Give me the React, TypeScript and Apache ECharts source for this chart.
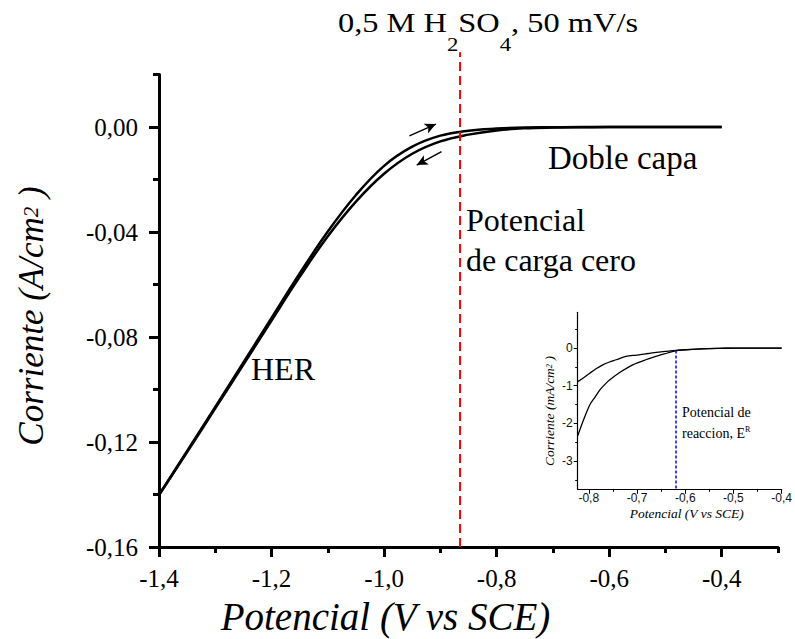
import React, { useEffect, useRef } from "react";
import * as echarts from "echarts";

// ---- Main voltammogram (A/cm2 vs V vs SCE) ----
const potential = [-1.4, -1.35, -1.3, -1.25, -1.2, -1.15, -1.1, -1.05, -1.0, -0.95, -0.9, -0.85, -0.8, -0.75, -0.7, -0.65, -0.6, -0.5, -0.4];
const currentForward = [-0.1402, -0.1234, -0.1066, -0.0897, -0.0727, -0.0558, -0.0398, -0.0259, -0.0148, -0.0075, -0.0033, -0.0014, -0.0006, -0.0002, -0.0001, 0, 0, 0, 0];
const currentReverse = [-0.1402, -0.1238, -0.1072, -0.0905, -0.0737, -0.0571, -0.0416, -0.0284, -0.0178, -0.0102, -0.0055, -0.0029, -0.0013, -0.0005, -0.0002, -0.0001, 0, 0, 0];

const mainXTicks = [-1.4, -1.2, -1.0, -0.8, -0.6, -0.4];
const mainYTicks = [-0.16, -0.12, -0.08, -0.04, 0];

// ---- Inset (mA/cm2) ----
const insetPotentialA = [-0.823, -0.81, -0.798, -0.785, -0.771, -0.757, -0.743, -0.723, -0.7, -0.682, -0.66, -0.641, -0.62, -0.6, -0.566, -0.53, -0.5, -0.45, -0.4];
const insetCurrentA = [-0.89, -0.78, -0.667, -0.55, -0.445, -0.37, -0.31, -0.22, -0.185, -0.152, -0.115, -0.09, -0.063, -0.045, -0.02, -0.008, -0.003, 0, 0];
const insetPotentialB = [-0.823, -0.811, -0.798, -0.787, -0.777, -0.767, -0.757, -0.736, -0.709, -0.682, -0.654, -0.62, -0.6, -0.566, -0.53, -0.5, -0.45, -0.4];
const insetCurrentB = [-2.33, -1.91, -1.51, -1.3, -1.11, -0.97, -0.85, -0.65, -0.445, -0.31, -0.196, -0.072, -0.045, -0.02, -0.008, -0.003, 0, 0];

const insetXTicks = [-0.8, -0.7, -0.6, -0.5, -0.4];
const insetXMinorTicks = [-0.75, -0.65, -0.55, -0.45];
const insetYTicks = [-3, -2, -1, 0];
const insetYMinorTicks = [-3.5, -2.5, -1.5, -0.5, 0.5];

// ---- Annotations (data coordinates) ----
const pzcPotential = -0.865;
const pzcSpan = [-0.16, 0.0285];
const reactionPotential = -0.62;
const reactionSpan = [-3.75, -0.065];
const arrowForward = [[-0.955, -0.0034], [-0.908, 0.0011]];
const arrowReverse = [[-0.898, -0.0094], [-0.942, -0.0145]];

const serif = "Liberation Serif";
const sans = "Liberation Sans";

const fmt = (v: number, d: number) => Number(v).toFixed(d).replace(".", ",");
const zip = (xs: number[], ys: number[]) => xs.map((x, i) => [x, ys[i]]);

function buildGraphics(): any[] {
  return [
    {
      type: "text", id: "title", x: 338, y: 22.8, scaleX: 1.2, silent: true,
      style: {
        text: "{m|0,5 M H}{s|2}{m|SO}{s|4}{m|, 50 mV/s}",
        align: "left", verticalAlign: "middle",
        rich: {
          m: { fontFamily: serif, fontSize: 27, lineHeight: 62, fill: "#000" },
          s: { fontFamily: serif, fontSize: 19, lineHeight: 19, verticalAlign: "bottom", fill: "#000" },
        },
      },
    },
    { type: "text", id: "doble", x: 548, y: 158, silent: true, style: { text: "Doble capa", fontFamily: serif, fontSize: 33, fill: "#000", align: "left", verticalAlign: "middle" } },
    { type: "text", id: "pzc1", x: 466, y: 219.8, silent: true, style: { text: "Potencial", fontFamily: serif, fontSize: 32, fill: "#000", align: "left", verticalAlign: "middle" } },
    { type: "text", id: "pzc2", x: 466, y: 259.8, silent: true, style: { text: "de carga cero", fontFamily: serif, fontSize: 32, fill: "#000", align: "left", verticalAlign: "middle" } },
    { type: "text", id: "her", x: 251, y: 369, silent: true, style: { text: "HER", fontFamily: serif, fontSize: 32, fill: "#000", align: "left", verticalAlign: "middle" } },
    { type: "text", id: "xname", x: 385.5, y: 616.7, silent: true, style: { text: "Potencial (V vs SCE)", fontFamily: serif, fontStyle: "italic", fontSize: 39, fill: "#000", align: "center", verticalAlign: "middle" } },
    {
      type: "text", id: "yname", x: 31, y: 316, rotation: Math.PI / 2, silent: true,
      style: {
        text: "{i|Corriente (A/cm}{s|2}{i| )}", align: "center", verticalAlign: "middle",
        rich: {
          i: { fontFamily: serif, fontStyle: "italic", fontSize: 35, lineHeight: 40, fill: "#000" },
          s: { fontFamily: serif, fontStyle: "italic", fontSize: 21, lineHeight: 21, verticalAlign: "middle", fill: "#000" },
        },
      },
    },
    // inset texts
    { type: "text", id: "ixname", x: 686.7, y: 513.4, silent: true, style: { text: "Potencial (V vs SCE)", fontFamily: serif, fontStyle: "italic", fontSize: 13.5, fill: "#000", align: "center", verticalAlign: "middle" } },
    {
      type: "text", id: "iyname", x: 549, y: 411, rotation: Math.PI / 2, silent: true,
      style: {
        text: "{i|Corriente (mA/cm}{s|2}{i| )}", align: "center", verticalAlign: "middle",
        rich: {
          i: { fontFamily: serif, fontStyle: "italic", fontSize: 13.5, lineHeight: 16, fill: "#000" },
          s: { fontFamily: serif, fontStyle: "italic", fontSize: 8.5, lineHeight: 8.5, verticalAlign: "middle", fill: "#000" },
        },
      },
    },
    { type: "text", id: "ire1", x: 682, y: 412.7, silent: true, style: { text: "Potencial de", fontFamily: serif, fontSize: 14, fill: "#000", align: "left", verticalAlign: "middle" } },
    {
      type: "text", id: "ire2", x: 682, y: 433.7, silent: true,
      style: {
        text: "{a|reaccion, E}{s|R}", align: "left", verticalAlign: "middle",
        rich: {
          a: { fontFamily: serif, fontSize: 14, lineHeight: 16, fill: "#000" },
          s: { fontFamily: serif, fontSize: 8, lineHeight: 8, verticalAlign: "top", fill: "#000" },
        },
      },
    },
  ];
}

function buildOption(): any {
  const mainAxisLine = { onZero: false, lineStyle: { color: "#000", width: 3 } };
  const insetAxisLine = { onZero: false, lineStyle: { color: "#000", width: 1.2 } };
  return {
    animation: false,
    backgroundColor: "#fff",
    textStyle: { fontFamily: serif },
    grid: [
      { left: 159, top: 74.5, width: 619, height: 472.5 },
      { left: 577.7, top: 312.3, width: 206.6, height: 177 },
    ],
    xAxis: [
      {
        gridIndex: 0, type: "value", position: "bottom", min: -1.4, max: -0.3, interval: 0.2,
        axisLine: mainAxisLine,
        axisTick: { customValues: mainXTicks, length: 10, lineStyle: { color: "#000", width: 3 } },
        axisLabel: { customValues: mainXTicks, margin: 19, fontFamily: serif, fontSize: 25, color: "#000", formatter: (v: number) => fmt(v, 1) },
        splitLine: { show: false },
      },
      {
        gridIndex: 0, type: "value", position: "bottom", min: -1.4, max: -0.3, interval: 0.1,
        axisLine: { show: false, onZero: false },
        axisTick: { length: 6, lineStyle: { color: "#000", width: 3 } },
        axisLabel: { show: false }, splitLine: { show: false },
      },
      {
        gridIndex: 1, type: "value", position: "bottom", min: -0.823, max: -0.4,
        axisLine: insetAxisLine,
        axisTick: { customValues: insetXTicks, length: 4.5, lineStyle: { color: "#000", width: 1 } },
        axisLabel: { customValues: insetXTicks, margin: 3, fontFamily: sans, fontSize: 12, color: "#111", formatter: (v: number) => fmt(v, 1) },
        splitLine: { show: false },
      },
      {
        gridIndex: 1, type: "value", position: "bottom", min: -0.823, max: -0.4,
        axisLine: { show: false, onZero: false },
        axisTick: { customValues: insetXMinorTicks, length: 2.5, lineStyle: { color: "#000", width: 1 } },
        axisLabel: { show: false }, splitLine: { show: false },
      },
    ],
    yAxis: [
      {
        gridIndex: 0, type: "value", position: "left", min: -0.16, max: 0.02, interval: 0.04,
        axisLine: mainAxisLine,
        axisTick: { customValues: mainYTicks, length: 10, lineStyle: { color: "#000", width: 3 } },
        axisLabel: { customValues: mainYTicks, margin: 21, fontFamily: serif, fontSize: 25, color: "#000", formatter: (v: number) => fmt(v, 2) },
        splitLine: { show: false },
      },
      {
        gridIndex: 0, type: "value", position: "left", min: -0.16, max: 0.02, interval: 0.02,
        axisLine: { show: false, onZero: false },
        axisTick: { length: 6, lineStyle: { color: "#000", width: 3 } },
        axisLabel: { show: false }, splitLine: { show: false },
      },
      {
        gridIndex: 1, type: "value", position: "left", min: -3.75, max: 0.95,
        axisLine: insetAxisLine,
        axisTick: { customValues: insetYTicks, length: 4, lineStyle: { color: "#000", width: 1 } },
        axisLabel: { customValues: insetYTicks, margin: 5, fontFamily: sans, fontSize: 12, color: "#111", formatter: (v: number) => String(Math.round(v)) },
        splitLine: { show: false },
      },
      {
        gridIndex: 1, type: "value", position: "left", min: -3.75, max: 0.95,
        axisLine: { show: false, onZero: false },
        axisTick: { customValues: insetYMinorTicks, length: 2.5, lineStyle: { color: "#000", width: 1 } },
        axisLabel: { show: false }, splitLine: { show: false },
      },
    ],
    series: [
      {
        type: "line", name: "forward", xAxisIndex: 0, yAxisIndex: 0,
        data: zip(potential, currentForward), symbol: "none", smooth: 0.4,
        lineStyle: { color: "#000", width: 2.5 }, silent: true, emphasis: { disabled: true },
        markLine: {
          silent: true, symbol: ["none", "arrow"], symbolSize: [8, 11],
          lineStyle: { color: "#000", width: 1.5, type: "solid" },
          label: { show: false }, emphasis: { disabled: true },
          data: [
            [{ coord: arrowForward[0] }, { coord: arrowForward[1] }],
            [{ coord: arrowReverse[0] }, { coord: arrowReverse[1] }],
          ],
        },
      },
      {
        type: "line", name: "reverse", xAxisIndex: 0, yAxisIndex: 0,
        data: zip(potential, currentReverse), symbol: "none", smooth: 0.4,
        lineStyle: { color: "#000", width: 2.5 }, silent: true, emphasis: { disabled: true },
      },
      {
        type: "line", name: "insetA", xAxisIndex: 2, yAxisIndex: 2,
        data: zip(insetPotentialA, insetCurrentA), symbol: "none", smooth: 0.3,
        lineStyle: { color: "#000", width: 1.3 }, silent: true, emphasis: { disabled: true },
        markLine: {
          silent: true, symbol: ["none", "none"],
          lineStyle: { color: "#0000ff", width: 1.5, type: [3, 2] },
          label: { show: false }, emphasis: { disabled: true },
          data: [[{ coord: [reactionPotential, reactionSpan[1]] }, { coord: [reactionPotential, reactionSpan[0]] }]],
        },
      },
      {
        type: "line", name: "insetB", xAxisIndex: 2, yAxisIndex: 2,
        data: zip(insetPotentialB, insetCurrentB), symbol: "none", smooth: 0.3,
        lineStyle: { color: "#000", width: 1.3 }, silent: true, emphasis: { disabled: true },
      },
    ],
    graphic: { elements: buildGraphics() },
  };
}

export default function App() {
  const ref = useRef<HTMLDivElement | null>(null);
  useEffect(() => {
    if (!ref.current) return;
    const chart = echarts.init(ref.current, null, { renderer: "svg" });
    chart.setOption(buildOption());
    const p1 = chart.convertToPixel({ xAxisIndex: 0, yAxisIndex: 0 } as any, [pzcPotential, pzcSpan[0]]) as number[];
    const p2 = chart.convertToPixel({ xAxisIndex: 0, yAxisIndex: 0 } as any, [pzcPotential, pzcSpan[1]]) as number[];
    if (p1 && p2) {
      chart.setOption({
        graphic: {
          elements: [
            ...buildGraphics(),
            {
              type: "line", id: "pzcLine", silent: true, z: 5,
              shape: { x1: p1[0], y1: p1[1], x2: p2[0], y2: p2[1] },
              style: { stroke: "#ff0000", lineWidth: 2, lineDash: [9, 5] },
            },
          ],
        },
      });
    }
    return () => chart.dispose();
  }, []);
  return (
    <div
      ref={ref}
      style={{ position: "fixed", left: 0, top: 0, width: 795, height: 639, background: "#fff" }}
    />
  );
}
